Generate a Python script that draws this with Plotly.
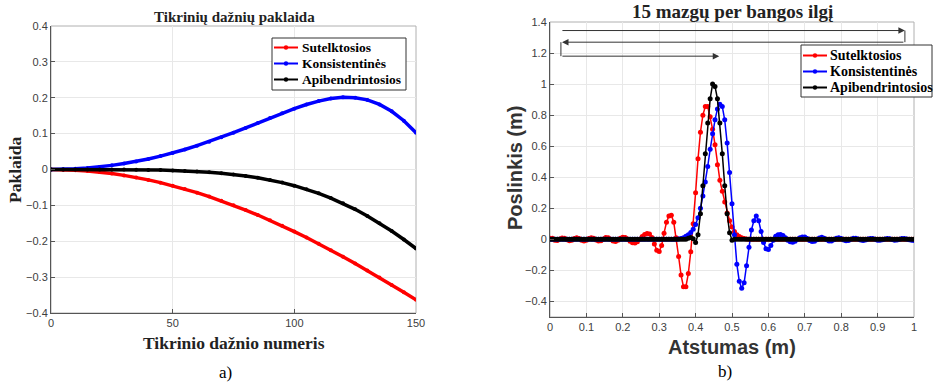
import plotly.graph_objects as go

# ---------------- left chart data (eigenfrequency error) ----------------
freq_number = [0, 5, 10, 15, 20, 25, 30, 35, 40, 45, 50, 55, 60, 65, 70, 75,
               80, 85, 90, 95, 100, 105, 110, 115, 120, 125, 130, 135, 140, 145, 150]
err_lumped = [0, -0.0005, -0.0018, -0.0041, -0.0073, -0.0114, -0.0164, -0.0222, -0.0290, -0.0366,
              -0.0451, -0.0545, -0.0645, -0.0755, -0.0872, -0.0997, -0.1130, -0.1269, -0.1416, -0.1569,
              -0.1730, -0.1897, -0.2070, -0.2248, -0.2431, -0.2621, -0.2815, -0.3013, -0.3217, -0.3423,
              -0.3634]
err_consistent = [0, 0.0005, 0.0018, 0.0041, 0.0073, 0.0115, 0.0165, 0.0225, 0.0294, 0.0373,
                  0.0461, 0.0558, 0.0663, 0.0777, 0.0898, 0.1027, 0.1160, 0.1296, 0.1433, 0.1568,
                  0.1695, 0.1811, 0.1907, 0.1977, 0.2012, 0.2002, 0.1940, 0.1815, 0.1623, 0.1360,
                  0.1027]
err_general = [0, 0, 0, 0, -0.0001, -0.0002, -0.0003, -0.0006, -0.0011, -0.0017,
               -0.0026, -0.0039, -0.0055, -0.0076, -0.0104, -0.0138, -0.0180, -0.0231, -0.0292, -0.0365,
               -0.0451, -0.0550, -0.0665, -0.0796, -0.0944, -0.1110, -0.1294, -0.1495, -0.1714, -0.1951,
               -0.2203]

# ---------------- right chart data (displacement along the bar) ----------------
x_nodes = [i / 150 for i in range(151)]
disp_lumped = [
    0.008, 0.008, -0.006, -0.008, 0.002, 0.009, 0.007, -0.003, -0.009, -0.005,
    0.005, 0.010, 0.006, -0.005, -0.010, -0.006, 0.006, 0.011, 0.007, -0.004,
    -0.011, -0.009, 0.003, 0.012, 0.010, 0.001, -0.010, -0.013, -0.005, 0.008,
    0.014, 0.012, 0.002, -0.012, -0.022, -0.024, -0.016, 0.000, 0.018, 0.032,
    0.037, 0.034, 0.012, -0.030, -0.070, -0.078, -0.040, 0.040, 0.110, 0.150,
    0.155, 0.110, 0.010, -0.110, -0.230, -0.305, -0.305, -0.220, -0.080, 0.100,
    0.300, 0.520, 0.690, 0.800, 0.855, 0.855, 0.790, 0.710, 0.610, 0.480,
    0.380, 0.310, 0.240, 0.170, 0.120, 0.080, 0.050, 0.030, 0.018, 0.010,
    0.005, 0.002, 0, 0, 0, 0, 0, 0, 0, 0,
    0, 0, 0, 0, 0, 0, 0, 0, 0, 0,
    0, 0, 0, 0, 0, 0, 0, 0, 0, 0,
    0, 0, 0, 0, 0, 0, 0, 0, 0, 0,
    0, 0, 0, 0, 0, 0, 0, 0, 0, 0,
    0, 0, 0, 0, 0, 0, 0, 0, 0, 0,
    0, 0, 0, 0, 0, 0, 0, 0, 0, 0,
    0]
disp_consistent = [
    0, 0, 0, 0, 0, 0, 0, 0, 0, 0,
    0, 0, 0, 0, 0, 0, 0, 0, 0, 0,
    0, 0, 0, 0, 0, 0, 0, 0, 0, 0,
    0, 0, 0, 0, 0, 0, 0, 0, 0, 0,
    0, 0, 0, 0, 0, 0, 0, 0, 0, 0,
    0, 0, 0.001, 0.003, 0.006, 0.010, 0.020, 0.030, 0.045, 0.065,
    0.095, 0.140, 0.200, 0.280, 0.370, 0.470, 0.580, 0.680, 0.770, 0.840,
    0.870, 0.855, 0.770, 0.620, 0.430, 0.230, 0.030, -0.160, -0.270, -0.315,
    -0.280, -0.170, -0.050, 0.060, 0.120, 0.150, 0.120, 0.050, -0.020, -0.060,
    -0.065, -0.040, -0.005, 0.020, 0.030, 0.032, 0.025, 0.010, -0.005, -0.015,
    -0.018, -0.012, 0.000, 0.010, 0.016, 0.015, 0.005, -0.007, -0.014, -0.012,
    -0.002, 0.009, 0.013, 0.008, -0.003, -0.011, -0.010, -0.002, 0.008, 0.011,
    0.006, -0.004, -0.009, -0.007, 0.001, 0.007, 0.008, 0.003, -0.004, -0.007,
    -0.004, 0.002, 0.006, 0.005, 0.000, -0.005, -0.006, -0.002, 0.003, 0.006,
    0.004, -0.001, -0.005, -0.004, 0.001, 0.005, 0.006, 0.002, -0.003, -0.005,
    -0.008]
disp_general = [
    0, 0, 0, 0, 0, 0, 0, 0, 0, 0,
    0, 0, 0, 0, 0, 0, 0, 0, 0, 0,
    0, 0, 0, 0, 0, 0, 0, 0, 0, 0,
    0, 0, 0, 0, 0, 0, 0, 0, 0, 0,
    0, 0, 0, 0, 0, 0, 0, 0, 0, 0,
    0, 0, 0, 0, 0, 0, 0, 0.008, 0.012, 0.004,
    -0.020, 0.030, 0.165, 0.345, 0.552, 0.750, 0.905, 1.000, 0.985, 0.905,
    0.750, 0.552, 0.345, 0.165, 0.043, -0.005, 0, 0, 0, 0,
    0, 0, 0, 0, 0, 0, 0, 0, 0, 0,
    0, 0, 0, 0, 0, 0, 0, 0, 0, 0,
    0, 0, 0, 0, 0, 0, 0, 0, 0, 0,
    0, 0, 0, 0, 0, 0, 0, 0, 0, 0,
    0, 0, 0, 0, 0, 0, 0, 0, 0, 0,
    0, 0, 0, 0, 0, 0, 0, 0, 0, 0,
    0, 0, 0, 0, 0, 0, 0, 0, 0, 0,
    0]

series_names = ["Sutelktosios", "Konsistentinės", "Apibendrintosios"]
series_colors = ["#ff0000", "#0000ff", "#000000"]

left_x_ticks = [0, 50, 100, 150]
left_y_ticks = [-0.4, -0.3, -0.2, -0.1, 0, 0.1, 0.2, 0.3, 0.4]
right_x_ticks = [0, 0.1, 0.2, 0.3, 0.4, 0.5, 0.6, 0.7, 0.8, 0.9, 1]
right_y_ticks = [-0.4, -0.2, 0, 0.2, 0.4, 0.6, 0.8, 1, 1.2, 1.4]

W, H = 933, 384
SERIF = "Liberation Serif, Times New Roman, serif"
SANS = "Liberation Sans, Arial, sans-serif"

fig = go.Figure()

for name, col, ys in zip(series_names, series_colors, [err_lumped, err_consistent, err_general]):
    fig.add_trace(go.Scatter(
        x=freq_number, y=ys, name=name, mode="lines+markers",
        line=dict(color=col, width=3.5), marker=dict(color=col, size=4),
        xaxis="x", yaxis="y", showlegend=False))

for name, col, ys in zip(series_names, series_colors, [disp_lumped, disp_consistent, disp_general]):
    fig.add_trace(go.Scatter(
        x=x_nodes, y=ys, name=name, mode="lines+markers",
        line=dict(color=col, width=1.5), marker=dict(color=col, size=5),
        xaxis="x2", yaxis="y2", showlegend=False))


def px_x(p):
    return p / W


def px_y(p):
    return 1 - p / H


tickfont = dict(family=SANS, size=11, color="#404040")
axis_common = dict(showgrid=True, gridcolor="#e8e8e8", gridwidth=1, zeroline=False,
                   showline=True, linecolor="#555555", linewidth=1,
                   ticks="inside", ticklen=4, tickcolor="#555555",
                   tickfont=tickfont, automargin=False)

fig.update_layout(
    width=W, height=H, margin=dict(l=0, r=0, t=0, b=0),
    paper_bgcolor="white", plot_bgcolor="white", showlegend=False,
    xaxis=dict(domain=[px_x(51), px_x(416)], range=[0, 150], tickvals=left_x_ticks,
               anchor="y", **axis_common),
    yaxis=dict(domain=[px_y(313), px_y(26)], range=[-0.4, 0.4], tickvals=left_y_ticks,
               anchor="x", **axis_common),
    xaxis2=dict(domain=[px_x(550), px_x(914)], range=[0, 1], tickvals=right_x_ticks,
                anchor="y2", **axis_common),
    yaxis2=dict(domain=[px_y(317), px_y(22)], range=[-0.5, 1.4], tickvals=right_y_ticks,
                anchor="x2", **axis_common),
)

# light box around plot areas
for xr, yr in [("x domain", "y domain"), ("x2 domain", "y2 domain")]:
    fig.add_shape(type="rect", xref=xr, yref=yr, x0=0, x1=1, y0=0, y1=1,
                  line=dict(color="#b0b0b0", width=1), layer="below")

annots = [
    dict(text="<b>Tikrinių dažnių paklaida</b>", x=px_x(234), y=px_y(17),
         font=dict(family=SERIF, size=15, color="#222")),
    dict(text="<b>Tikrinio dažnio numeris</b>", x=px_x(234), y=px_y(343),
         font=dict(family=SERIF, size=17.5, color="#222")),
    dict(text="<b>Paklaida</b>", x=px_x(15), y=px_y(170), textangle=-90,
         font=dict(family=SERIF, size=17.5, color="#222")),
    dict(text="a)", x=px_x(225), y=px_y(372),
         font=dict(family=SERIF, size=17, color="black")),
    dict(text="<b>15 mazgų per bangos ilgį</b>", x=px_x(733), y=px_y(11),
         font=dict(family=SERIF, size=19, color="#222")),
    dict(text="<b>Atstumas (m)</b>", x=px_x(732), y=px_y(347),
         font=dict(family=SANS, size=20, color="#333")),
    dict(text="<b>Poslinkis (m)</b>", x=px_x(515), y=px_y(168), textangle=-90,
         font=dict(family=SANS, size=20, color="#333")),
    dict(text="b)", x=px_x(725), y=px_y(371),
         font=dict(family=SERIF, size=17, color="black")),
]
for a in annots:
    fig.add_annotation(xref="paper", yref="paper", showarrow=False,
                       xanchor="center", yanchor="middle", **a)

# hand-placed legend boxes (pixel layout of the reference)
legends = [
    dict(box=(272, 38, 406, 90), rows=[47.5, 63.5, 79.5], s0=274, s1=298, tx=300, fs=13.5),
    dict(box=(801, 45, 932, 97), rows=[55.5, 71.5, 87.5], s0=803, s1=827, tx=828, fs=14),
]
for lg in legends:
    bx0, by0, bx1, by1 = lg["box"]
    fig.add_shape(type="rect", xref="paper", yref="paper",
                  x0=px_x(bx0), x1=px_x(bx1), y0=px_y(by1), y1=px_y(by0),
                  line=dict(color="#333333", width=1), fillcolor="white", layer="above")
    for name, col, ry in zip(series_names, series_colors, lg["rows"]):
        fig.add_shape(type="line", xref="paper", yref="paper",
                      x0=px_x(lg["s0"]), x1=px_x(lg["s1"]), y0=px_y(ry), y1=px_y(ry),
                      line=dict(color=col, width=2), layer="above")
        cx = (lg["s0"] + lg["s1"]) / 2
        fig.add_shape(type="circle", xref="paper", yref="paper",
                      x0=px_x(cx - 2.2), x1=px_x(cx + 2.2), y0=px_y(ry + 2.2), y1=px_y(ry - 2.2),
                      line=dict(color=col, width=0), fillcolor=col, layer="above")
        fig.add_annotation(xref="paper", yref="paper", showarrow=False,
                           x=px_x(lg["tx"]), y=px_y(ry), xanchor="left", yanchor="middle",
                           text="<b>" + name + "</b>",
                           font=dict(family=SERIF, size=lg["fs"], color="black"))

# arrows in the right chart
arrow_col = "#333333"
arrows = [((0.03, 1.345), (0.975, 1.345)),
          ((0.975, 1.27), (0.033, 1.27)),
          ((0.03, 1.18), (0.465, 1.18))]
for (tx, ty), (hx, hy) in arrows:
    fig.add_annotation(xref="x2", yref="y2", axref="x2", ayref="y2",
                       x=hx, y=hy, ax=tx, ay=ty, text="", showarrow=True,
                       arrowhead=2, arrowsize=1.3, arrowwidth=1, arrowcolor=arrow_col)
for (x0, y0, x1, y1) in [(0.975, 1.345, 0.975, 1.27), (0.03, 1.27, 0.03, 1.18)]:
    fig.add_shape(type="line", xref="x2", yref="y2", x0=x0, y0=y0, x1=x1, y1=y1,
                  line=dict(color=arrow_col, width=1))

fig.write_html("out.html")
